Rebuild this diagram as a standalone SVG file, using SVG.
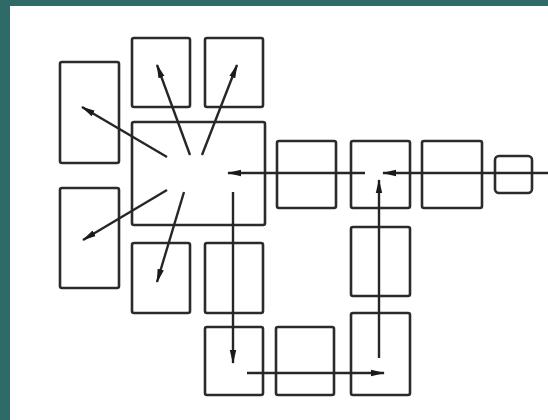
<svg xmlns="http://www.w3.org/2000/svg" width="548" height="420" viewBox="0 0 548 420">
<defs>
<style>
.box{fill:none;stroke:#2b2b2b;stroke-width:2.6}
.ln{fill:none;stroke:#262626;stroke-width:2.4;marker-end:url(#ah)}
.pl{fill:none;stroke:#262626;stroke-width:2.4}
</style>
<marker id="ah" viewBox="0 0 14 8" refX="13" refY="4" markerWidth="14" markerHeight="8" markerUnits="userSpaceOnUse" orient="auto">
<path d="M0,0.8 L14,4 L0,7.2 Z" fill="#1a1a1a"/>
</marker>
</defs>
<rect x="0" y="0" width="548" height="420" fill="#ffffff"/>
<rect x="0" y="0" width="10" height="420" fill="#2d6a68"/>
<rect x="0" y="0" width="548" height="6" fill="#2d6a68"/>
<g id="center"><rect class="box" x="132" y="122" width="133" height="103" rx="2"/></g>
<g id="left-top"><rect class="box" x="60" y="62" width="59" height="101" rx="2"/></g>
<g id="left-bottom"><rect class="box" x="60" y="188" width="59" height="100" rx="2"/></g>
<g id="top-1"><rect class="box" x="132" y="38" width="58" height="69" rx="2"/></g>
<g id="top-2"><rect class="box" x="205" y="38" width="58" height="69" rx="2"/></g>
<g id="below-1"><rect class="box" x="132" y="243" width="58" height="70" rx="2"/></g>
<g id="below-2"><rect class="box" x="205" y="243" width="58" height="70" rx="2"/></g>
<g id="bottom-1"><rect class="box" x="205" y="327" width="58" height="68" rx="2"/></g>
<g id="bottom-2"><rect class="box" x="276" y="327" width="58" height="68" rx="2"/></g>
<g id="right-bottom"><rect class="box" x="351" y="313" width="59" height="82" rx="2"/></g>
<g id="right-middle"><rect class="box" x="351" y="227" width="59" height="69" rx="2"/></g>
<g id="row-1"><rect class="box" x="277" y="141" width="59" height="67" rx="2"/></g>
<g id="row-2"><rect class="box" x="351" y="141" width="59" height="67" rx="2"/></g>
<g id="row-3"><rect class="box" x="422" y="141" width="60" height="67" rx="2"/></g>
<g id="small"><rect class="box" x="495" y="156" width="37" height="37" rx="4"/></g>
<g id="connectors">
<line class="ln" x1="548" y1="173" x2="383" y2="173"/>
<line class="ln" x1="365" y1="173" x2="228" y2="173"/>
<line class="ln" x1="379" y1="358" x2="379" y2="180"/>
<line class="ln" x1="233" y1="192" x2="233" y2="363"/>
<line class="ln" x1="247" y1="373" x2="384" y2="373"/>
<line class="ln" x1="167" y1="157" x2="82" y2="107"/>
<line class="ln" x1="190" y1="155" x2="157" y2="65"/>
<line class="ln" x1="202" y1="155" x2="237" y2="65"/>
<line class="ln" x1="167" y1="190" x2="83" y2="240"/>
<line class="ln" x1="184" y1="192" x2="157" y2="282"/>
</g>
</svg>
